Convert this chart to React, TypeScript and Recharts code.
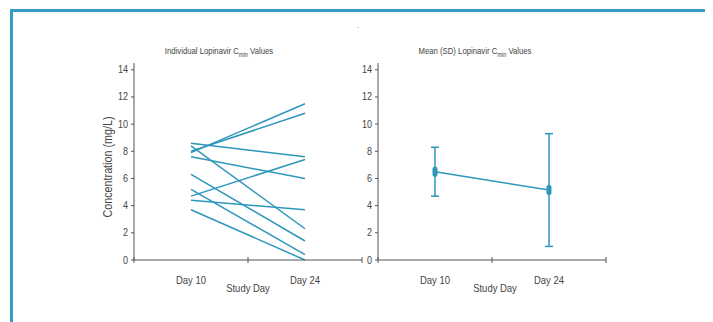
import React from 'react';
import { LineChart, Line, XAxis, YAxis, ErrorBar } from 'recharts';

const days = ['Day 10', 'Day 24'];
// individual patients
const day10Values = [8.6, 7.9, 8.0, 7.6, 8.4, 6.3, 5.2, 4.7, 4.4, 3.7];
const day24Values = [7.6, 11.5, 10.8, 6.0, 2.3, 1.4, 0.4, 7.4, 3.7, 0.0];
// mean (SD), right panel
const meanValues = [6.5, 5.15];
const sdValues = [1.8, 4.15];
const yTicks = [0, 2, 4, 6, 8, 10, 12, 14];

const BLUE = '#2e96bc';
const AXIS = '#555';
const TEXT = '#444';
const FONT = '"Liberation Sans Narrow", "Liberation Sans", Arial, sans-serif';
const NARROW = 0.86; // the original uses a condensed face

// each category sits in the middle of its band [i, i+1]
const xTicks = [0, 0.5, 1, 1.5, 2];
const individualRows = days.map((day, i) => {
  const vals = i === 0 ? day10Values : day24Values;
  const row: Record<string, number | string> = { x: i + 0.5, day };
  vals.forEach((v, p) => {
    row['p' + p] = v;
  });
  return row;
});
const meanRows = days.map((day, i) => ({
  x: i + 0.5,
  day,
  mean: meanValues[i],
  sd: sdValues[i],
}));

function DayTick(props: any) {
  const { x, y, payload } = props;
  const v = payload.value as number;
  if (Number.isInteger(v)) {
    return <line x1={x} x2={x} y1={y - 3} y2={y + 3} stroke={AXIS} />;
  }
  return (
    <text
      transform={`translate(${x},${y + 24}) scale(${NARROW},1)`}
      textAnchor="middle"
      fontSize={11}
      fill={TEXT}
      fontFamily={FONT}
    >
      {days[Math.floor(v)]}
    </text>
  );
}

function ValueTick(props: any) {
  const { x, y, payload } = props;
  return (
    <text
      transform={`translate(${x},${y + 3.5}) scale(${NARROW},1)`}
      textAnchor="end"
      fontSize={10.5}
      fill={TEXT}
      fontFamily={FONT}
    >
      {payload.value}
    </text>
  );
}

function MeanDot(props: any) {
  const { cx, cy, index } = props;
  return <rect key={index} x={cx - 2.5} y={cy - 5} width={5} height={10} rx={2} fill={BLUE} />;
}

const yAxisProps = {
  type: 'number' as const,
  domain: [0, 14.5],
  ticks: yTicks,
  width: 30,
  tickSize: 3,
  tickMargin: 3,
  stroke: AXIS,
  tick: <ValueTick />,
  interval: 0 as const,
};

const xAxisProps = {
  type: 'number' as const,
  dataKey: 'x',
  domain: [0, 2],
  ticks: xTicks,
  interval: 0 as const,
  height: 40,
  tickSize: 0,
  tickMargin: 0,
  tickLine: false,
  stroke: AXIS,
  tick: <DayTick />,
};

const label = (text: string, left: number, top: number, size: number, rotate = false) => (
  <div
    style={{
      position: 'absolute',
      left,
      top,
      transform: `translate(-50%, -50%)${rotate ? ' rotate(-90deg)' : ''} scaleX(${NARROW})`,
      whiteSpace: 'nowrap',
      fontFamily: FONT,
      fontSize: size,
      color: TEXT,
      lineHeight: 1,
    }}
  >
    {text}
  </div>
);

const title = (text: string, left: number) => (
  <div
    style={{
      position: 'absolute',
      left,
      top: 53,
      transform: `translate(-50%, -50%) scaleX(${NARROW})`,
      whiteSpace: 'nowrap',
      fontFamily: FONT,
      fontSize: 9,
      color: TEXT,
      lineHeight: 1,
    }}
  >
    {text} C<sub style={{ fontSize: 6.5 }}>min</sub> Values
  </div>
);

export default function App() {
  return (
    <div style={{ position: 'relative', width: 713, height: 322, margin: '-8px 0 0 -8px', overflow: 'hidden', background: '#fff' }}>
      <div
        style={{
          position: 'absolute',
          left: 10,
          top: 9,
          width: 695,
          height: 400,
          border: '3px solid #3a9bc5',
        }}
      />
      <div style={{ position: 'absolute', left: 357, top: 21, fontSize: 8, color: '#555', fontFamily: FONT }}>.</div>

      <div style={{ position: 'absolute', left: 0, top: 0 }}>
        <LineChart width={370} height={322} data={individualRows} margin={{ top: 63, right: 8, bottom: 22, left: 104 }}>
          <XAxis {...xAxisProps} />
          <YAxis {...yAxisProps} />
          {day10Values.map((_, p) => (
            <Line
              key={p}
              dataKey={'p' + p}
              stroke={BLUE}
              strokeWidth={1.5}
              dot={false}
              isAnimationActive={false}
            />
          ))}
        </LineChart>
      </div>

      <div style={{ position: 'absolute', left: 340, top: 0 }}>
        <LineChart width={373} height={322} data={meanRows} margin={{ top: 63, right: 107, bottom: 22, left: 8 }}>
          <XAxis {...xAxisProps} />
          <YAxis {...yAxisProps} />
          <Line dataKey="mean" stroke={BLUE} strokeWidth={1.5} dot={<MeanDot />} isAnimationActive={false}>
            <ErrorBar dataKey="sd" width={4} stroke={BLUE} strokeWidth={1.5} direction="y" />
          </Line>
        </LineChart>
      </div>

      {title('Individual Lopinavir', 219)}
      {title('Mean (SD) Lopinavir', 475)}
      {label('Concentration (mg/L)', 108, 167, 12.5, true)}
      {label('Study Day', 248, 288, 11)}
      {label('Study Day', 495, 288, 11)}
    </div>
  );
}
